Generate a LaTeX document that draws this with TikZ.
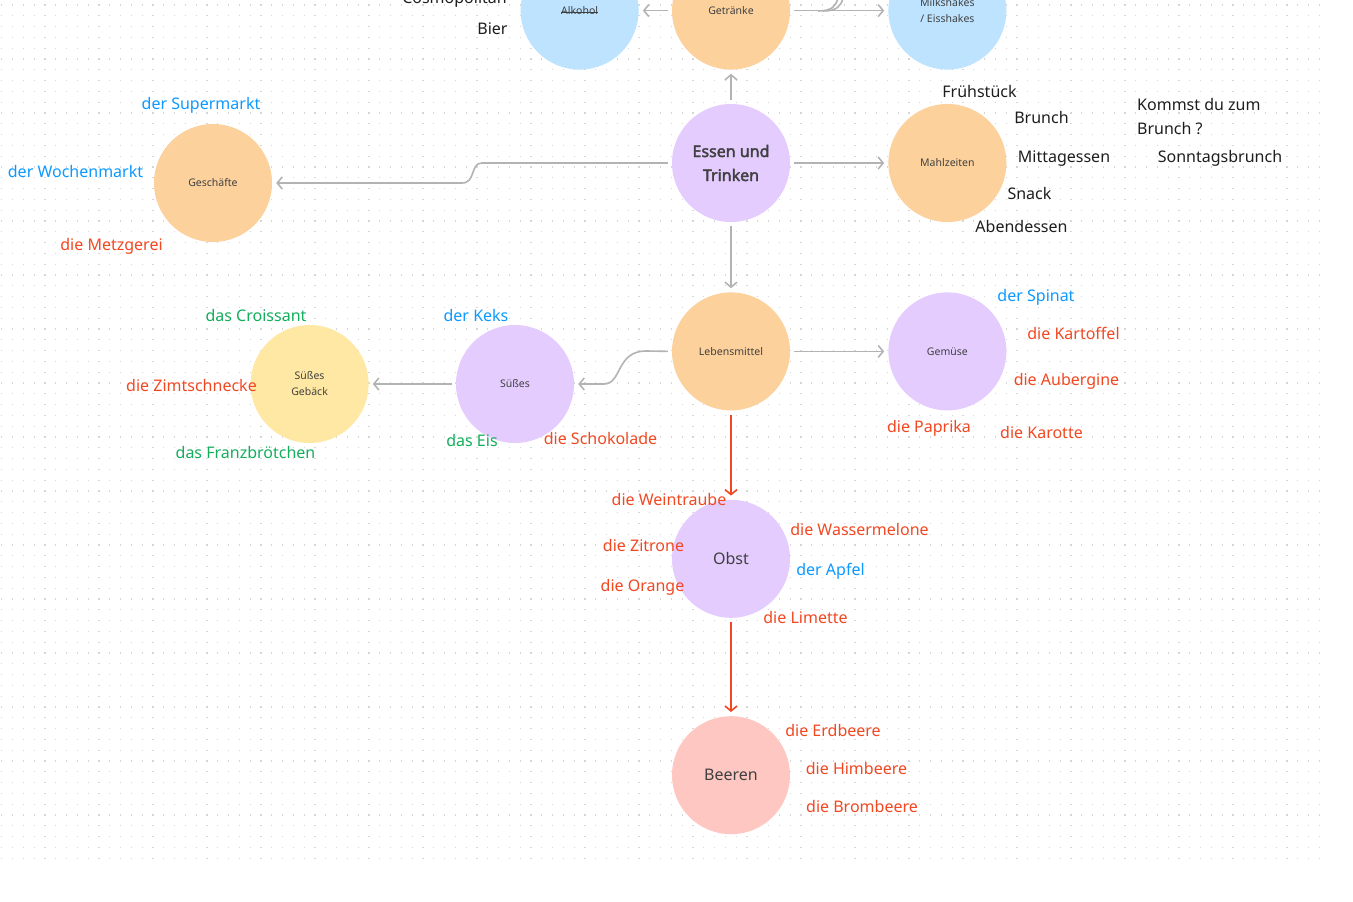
\documentclass[tikz,border=0pt]{standalone}
\usepackage{fontspec}
\setmainfont{Noto Sans}
\newfontfamily\headfont{Noto Sans}[FakeBold=2.2]
\usepackage{tikz}
\usetikzlibrary{positioning,arrows.meta}
\definecolor{orangefill}{HTML}{FCD19C}
\definecolor{purplefill}{HTML}{E4CCFF}
\definecolor{bluefill}{HTML}{BDE3FF}
\definecolor{yellowfill}{HTML}{FFE8A3}
\definecolor{pinkfill}{HTML}{FFC7C2}
\definecolor{wordblue}{HTML}{0D99FF}
\definecolor{wordred}{HTML}{F24822}
\definecolor{wordgreen}{HTML}{14AE5C}
\definecolor{wordblack}{HTML}{1E1E1E}
\definecolor{linegray}{HTML}{B3B3B3}
\definecolor{dotgray}{HTML}{D6D6D6}
\newcommand\crossout[1]{\setbox0\hbox{#1}\rlap{\raisebox{0.32ex}{\rule{\wd0}{0.6pt}}}\box0}

\begin{document}
\begin{tikzpicture}[
  x=1pt, y=-1pt,
  node distance=98pt,
  topic/.style={circle, inner sep=0pt, minimum size=118pt, align=center, text=wordblack!85, font=\fontsize{10.5}{16}\selectfont},
  bigtopic/.style={topic, font=\fontsize{16}{24}\selectfont},
  word/.style={inner sep=0pt, text height=11.5pt, text depth=0pt, font=\fontsize{16}{24}\selectfont},
  arr/.style={-{Straight Barb[length=5pt,width=12pt]}, line width=1.6pt, linegray, shorten <=4pt, shorten >=4pt},
  redarr/.style={arr, wordred},
  dots/.style={dotgray, line width=1.2pt, dash pattern=on 1.2pt off 9.6pt}
]
\fill[white] (0,0) rectangle (1353,902);
\useasboundingbox (0,0) rectangle (1353,902);
\foreach \r in {0,...,79}
  \draw[dots] (1.1,{5+10.8*\r}) -- (1322,{5+10.8*\r});

\node[topic, fill=purplefill, font=\fontsize{16}{24}\headfont] (essen) at (731,163) {Essen und\\Trinken};
\node[topic, fill=orangefill, right=of essen] (mahlzeiten) {Mahlzeiten};
\node[topic, fill=orangefill, above=34pt of essen] (getraenke) {Getränke};
\node[topic, fill=bluefill, left=33pt of getraenke] (alkohol) {\crossout{Alkohol}};
\node[topic, fill=bluefill, right=of getraenke] (shakes) {Milkshakes\\/ Eisshakes};
\node[topic, fill=orangefill] (geschaefte) at (213,183) {Geschäfte};
\node[topic, fill=orangefill, below=70pt of essen] (lebensmittel) {Lebensmittel};
\node[topic, fill=purplefill, right=of lebensmittel] (gemuese) {Gemüse};
\node[topic, fill=purplefill] (suesses) at (515,384) {Süßes};
\node[topic, fill=yellowfill, left=87pt of suesses] (gebaeck) {Süßes\\Gebäck};
\node[bigtopic, fill=purplefill, below=89pt of lebensmittel] (obst) {Obst};
\node[bigtopic, fill=pinkfill, below=of obst] (beeren) {Beeren};

\coordinate (feedA) at (818,11);
\coordinate (feedAtop) at (838,-2);
\coordinate (feedB) at (823,11);
\coordinate (feedBtop) at (843,-2);

\draw[arr] (essen) -- (getraenke);
\draw[arr] (getraenke) -- (alkohol);
\draw[arr] (getraenke) -- (shakes);
\draw[linegray, line width=1.6pt] (feedA) .. controls (832,11) and (836,6) .. (feedAtop);
\draw[linegray, line width=1.6pt] (feedB) .. controls (837,11) and (841,6) .. (feedBtop);
\draw[arr] (essen) -- (mahlzeiten);
\draw[arr] (essen.west) -- (482,163) .. controls (470,163) and (476,183) .. (462,183) -- (geschaefte.east);
\draw[arr] (essen) -- (lebensmittel);
\draw[arr] (lebensmittel) -- (gemuese);
\draw[arr] (lebensmittel.west) -- (646,351) .. controls (616,351) and (622,384) .. (604,384) -- (suesses.east);
\draw[arr] (suesses) -- (gebaeck);
\draw[redarr] (lebensmittel) -- (obst);
\draw[redarr] (obst) -- (beeren);

\node[word, text=wordblack, anchor=base east] (cosmo) at (507,3.5) {Cosmopolitan};
\node[word, text=wordblack] (bier) at (492.5,29) {Bier};
\node[word, text=wordblack] (fruehstueck) at (979.5,92) {Frühstück};
\node[word, text=wordblack] (brunch) at (1041.5,118) {Brunch};
\node[word, text=wordblack] (mittag) at (1064,157) {Mittagessen};
\node[word, text=wordblack] (snack) at (1029.5,194) {Snack};
\node[word, text=wordblack] (abend) at (1021.5,227) {Abendessen};
\node[word, text=wordblack, anchor=west] (kommst) at (1137,105) {Kommst du zum};
\node[word, text=wordblack, anchor=west] (kommst2) at (1137,129) {Brunch ?};
\node[word, text=wordblack] (sonntag) at (1220,157) {Sonntagsbrunch};

\node[word, text=wordblue] (supermarkt) at (201,104) {der Supermarkt};
\node[word, text=wordblue] (wochenmarkt) at (75.5,172) {der Wochenmarkt};
\node[word, text=wordred] (metzgerei) at (111.5,245) {die Metzgerei};

\node[word, text=wordgreen] (croissant) at (256,316) {das Croissant};
\node[word, text=wordred] (zimt) at (191.5,386) {die Zimtschnecke};
\node[word, text=wordgreen] (franz) at (245.5,453) {das Franzbrötchen};
\node[word, text=wordblue] (keks) at (476,316) {der Keks};
\node[word, text=wordgreen] (eis) at (472,441) {das Eis};
\node[word, text=wordred] (schoko) at (600.5,439) {die Schokolade};

\node[word, text=wordblue] (spinat) at (1036,296) {der Spinat};
\node[word, text=wordred] (kartoffel) at (1073.5,334) {die Kartoffel};
\node[word, text=wordred] (aubergine) at (1066.5,380) {die Aubergine};
\node[word, text=wordred] (paprika) at (929,427) {die Paprika};
\node[word, text=wordred] (karotte) at (1041.5,433) {die Karotte};

\node[word, text=wordred] (weintraube) at (669,500) {die Weintraube};
\node[word, text=wordred] (zitrone) at (643.5,546) {die Zitrone};
\node[word, text=wordred] (orange) at (642.5,586) {die Orange};
\node[word, text=wordred] (melone) at (859.5,530) {die Wassermelone};
\node[word, text=wordblue] (apfel) at (830.5,570) {der Apfel};
\node[word, text=wordred] (limette) at (805.5,618) {die Limette};

\node[word, text=wordred] (erdbeere) at (833,731) {die Erdbeere};
\node[word, text=wordred] (himbeere) at (856.5,769) {die Himbeere};
\node[word, text=wordred] (brombeere) at (862,807) {die Brombeere};
\end{tikzpicture}
\end{document}
